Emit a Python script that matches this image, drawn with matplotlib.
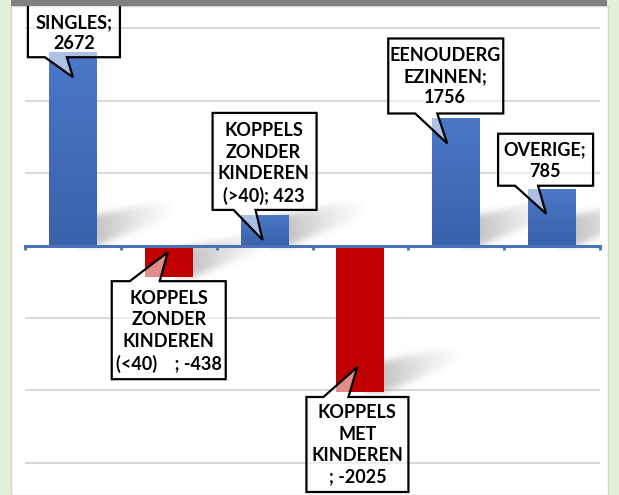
import numpy as np
import matplotlib.pyplot as plt
import matplotlib.transforms as mtransforms
from matplotlib.patches import Polygon, Rectangle
from matplotlib.colors import LinearSegmentedColormap

categories = ['SINGLES', 'KOPPELS ZONDER KINDEREN (<40)', 'KOPPELS ZONDER KINDEREN (>40)',
              'KOPPELS MET KINDEREN', 'EENOUDERGEZINNEN', 'OVERIGE']
values = [2672, -438, 423, -2025, 1756, 785]
# wrapped label text as shown in the callouts, value is appended
callout_labels = ['SINGLES;\n', 'KOPPELS\nZONDER\nKINDEREN\n(<40)    ; ', 'KOPPELS\nZONDER\nKINDEREN\n(>40); ',
                  'KOPPELS\nMET\nKINDEREN\n; ', 'EENOUDERG\nEZINNEN;\n', 'OVERIGE;\n']

BLUE = '#4472c4'
RED = '#c00000'
GREEN_BG = '#e3efd9'

# callout layout, pixels relative to the pointer tip (y downwards):
# left, top, right, bottom, pointer base x0, x1, base edge, text centre x, y, tip dx
callout_layout = [
    (-45, -76, 47, -20, -28, -6, 'bottom', 1, -44, 0),
    (-56, 29, 58, 127, -38, -8, 'top', 1, 79, -1),
    (-50, -127, 54, -30, -29, -7, 'bottom', 1, -76, -2),
    (-51, 30, 51, 125, -34, -9, 'top', 0, 78, -3),
    (-59, -105, 56, -30, -32, -10, 'bottom', -2, -67, -9),
    (-48, -80, 47, -28, -31, -8, 'bottom', -1, -53, -6),
]

fig = plt.figure(figsize=(6.19, 4.95), dpi=100, facecolor=GREEN_BG)
W, H = 619, 495

# white chart panel and grey band on top
fig.patches.append(Rectangle((11 / W, 0), 597 / W, 489 / H, transform=fig.transFigure,
                             facecolor='white', edgecolor='#d4d4d4', lw=1, zorder=-1))
fig.patches.append(Rectangle((11 / W, 489 / H), 596 / W, 6 / H, transform=fig.transFigure,
                             facecolor='#808080', edgecolor='none', zorder=10))

ax = fig.add_axes([25 / W, 0, 575 / W, 489 / H])
ax.set_facecolor('none')
ax.set_xlim(-0.5, 5.5)
ax.set_ylim(-3449, 3311)
x = np.arange(len(values))
bars = ax.bar(x, values, width=0.5, color=[BLUE if v > 0 else RED for v in values], zorder=2)

# slight vertical gradient on the blue bars
grad = np.linspace(0, 1, 64).reshape(-1, 1)
blue_cmap = LinearSegmentedColormap.from_list('bl', ['#3a62ab', '#4a77c8'])
for b, v in zip(bars, values):
    if v > 0:
        im = ax.imshow(grad, extent=(b.get_x(), b.get_x() + b.get_width(), 0, v),
                       origin='lower', cmap=blue_cmap, aspect='auto', zorder=2.1)
        im.set_clip_path(b)


def px_trans(xd, yd, flip=True):
    # pixel offsets from a data point (y down when flip)
    t = mtransforms.ScaledTranslation(xd, yd, ax.transData)
    return mtransforms.Affine2D().scale(1, -1) + t if flip else t


# soft shadow image, in pixels from the bottom right corner of a bar (y up)
sx = np.arange(-20, 100) + 0.5
sy = np.arange(-12, 64) + 0.5
gx, gy = np.meshgrid(sx, sy)
inside = (gx <= 74) & (gy <= 31 + 0.194 * gx) & (gy >= np.maximum(0, 0.403 * gx))
shade = inside * np.clip(1 - gx / 80, 0, 1) ** 1.3
kern = np.exp(-0.5 * (np.arange(-10, 11) / 3.5) ** 2)
kern /= kern.sum()
shade = np.apply_along_axis(lambda r: np.convolve(r, kern, mode='same'), 1, shade)
shade = np.apply_along_axis(lambda c: np.convolve(c, kern, mode='same'), 0, shade)
shadow_rgba = np.zeros(shade.shape + (4,))
shadow_rgba[..., :3] = 0.45
shadow_rgba[..., 3] = 0.42 * shade

for b, v in zip(bars, values):
    xr = b.get_x() + b.get_width()
    yb = min(0, v)
    ax.imshow(shadow_rgba, extent=(sx[0] - 0.5, sx[-1] + 0.5, sy[0] - 0.5, sy[-1] + 0.5),
              origin='lower', transform=px_trans(xr, yb, flip=False), zorder=1,
              interpolation='bilinear')

# axis line through zero with small ticks between categories
for s in ['top', 'right', 'left']:
    ax.spines[s].set_visible(False)
ax.spines['bottom'].set_position(('data', 0))
ax.spines['bottom'].set_color('#4a72b8')
ax.spines['bottom'].set_linewidth(2.2)
ax.spines['bottom'].set_zorder(4)
ax.set_xticks(np.arange(-0.5, 6, 1))
ax.tick_params(axis='x', direction='out', length=3, width=2, color='#4a72b8', labelbottom=False)
ax.set_yticks([-3000, -2000, -1000, 1000, 2000, 3000])
ax.tick_params(axis='y', length=0, labelleft=False)
ax.grid(axis='y', color='#d9d9d9', lw=1.5)
ax.set_axisbelow(True)

# callouts
px_per_unit = 72.33 / 1000
for i, (v, lab, lay) in enumerate(zip(values, callout_labels, callout_layout)):
    L, T, R, B, b0, b1, edge, tx, ty, tdx = lay
    tip_x = i + tdx / 95.83
    tip_y = v - np.sign(v) * 25 / px_per_unit
    if edge == 'bottom':
        verts = [(L, T), (R, T), (R, B), (b1, B), (0, 0), (b0, B), (L, B)]
    else:
        verts = [(L, T), (b0, T), (0, 0), (b1, T), (R, T), (R, B), (L, B)]
    ax.add_patch(Polygon(verts, closed=True, transform=px_trans(tip_x, tip_y),
                         facecolor=(1, 1, 1, 0.55), edgecolor='black', lw=1.6,
                         joinstyle='miter', zorder=6, clip_on=False))
    ax.annotate(lab + str(v), xy=(tip_x, tip_y), xytext=(tx, -ty), textcoords='offset pixels',
                ha='center', va='center', multialignment='center', fontsize=13,
                fontweight='bold', family='Lato', linespacing=1.32, zorder=7,
                annotation_clip=False)

ax.set_xlim(-0.5, 5.5)
ax.set_ylim(-3449, 3311)
fig.savefig('out.png', dpi=100, facecolor=GREEN_BG)
